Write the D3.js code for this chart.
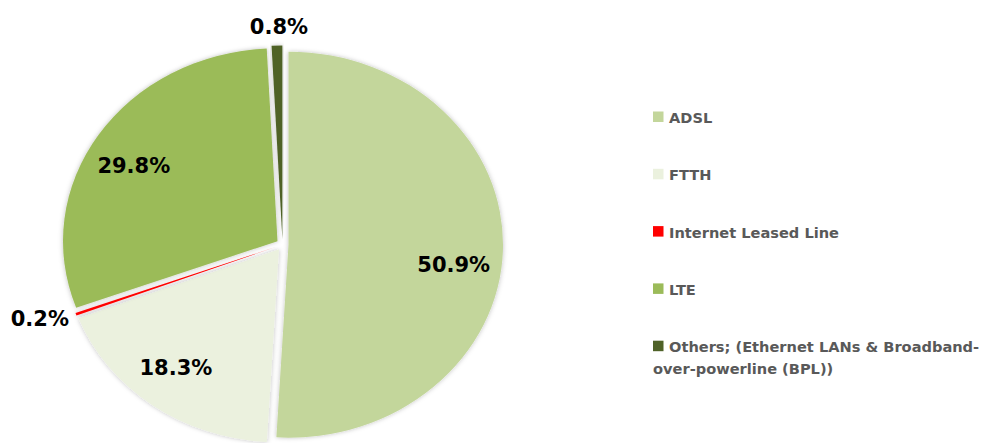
<!DOCTYPE html>
<html>
<head>
<meta charset="utf-8">
<script src="https://cdn.jsdelivr.net/npm/d3@7"></script>
<style>
  html, body { margin: 0; padding: 0; background: #fff; }
  svg { display: block; }
</style>
</head>
<body>
<svg id="chart" width="991" height="443"></svg>
<script>
// ---- data ----
const categories = ["ADSL", "FTTH", "Internet Leased Line", "LTE", "Others; (Ethernet LANs & Broadband-over-powerline (BPL))"];
const legendLines = [["ADSL"], ["FTTH"], ["Internet Leased Line"], ["LTE"], ["Others; (Ethernet LANs & Broadband-", "over-powerline (BPL))"]];
const values = [50.9, 18.3, 0.2, 29.8, 0.8];
const colors = ["#c3d69b", "#ebf1de", "#ff0000", "#9bbb59", "#4f6228"];
const labels = ["50.9%", "18.3%", "0.2%", "29.8%", "0.8%"];

// ---- layout ----
const svg = d3.select("#chart");
const cx = 282.5, cy = 244.5;
const rx = 214.5, ry = 193;
const k = rx / ry;
const explode = 6;
const insideR = 150;
const deg = Math.PI / 180;
const angleNudge = { "ADSL": 6 * deg, "FTTH": 2 * deg, "LTE": -3 * deg };

const defs = svg.append("defs");
const f = defs.append("filter").attr("id", "shadow")
  .attr("x", "-10%").attr("y", "-10%").attr("width", "120%").attr("height", "120%");
f.append("feDropShadow").attr("dx", 0).attr("dy", 0).attr("stdDeviation", 2.2)
  .attr("flood-color", "#000").attr("flood-opacity", 0.25);

const pie = d3.pie().value(d => d).sort(null);
const arcs = pie(values);
const arc = d3.arc().innerRadius(0).outerRadius(ry);

const g = svg.append("g");
arcs.forEach((a, i) => {
  const mid = (a.startAngle + a.endAngle) / 2;
  const ox = explode * Math.sin(mid), oy = -explode * Math.cos(mid);
  const sg = g.append("g")
    .attr("transform", `translate(${cx + ox},${cy + oy}) scale(${k},1)`);
  sg.append("path")
    .attr("d", arc(a))
    .attr("fill", colors[i])
    .attr("filter", "url(#shadow)");
});

// ---- data labels ----
const fontLbl = "'DejaVu Sans', Verdana, sans-serif";
arcs.forEach((a, i) => {
  let mid = (a.startAngle + a.endAngle) / 2;
  const ox = explode * Math.sin(mid), oy = -explode * Math.cos(mid);
  const s = Math.sin(mid), c = -Math.cos(mid);
  const t = svg.append("text")
    .attr("font-family", fontLbl)
    .attr("font-weight", "bold")
    .attr("font-size", 21)
    .attr("fill", "#000")
    .text(labels[i]);
  if (values[i] >= 5) {
    const m = mid + (angleNudge[categories[i]] || 0);
    const x = cx + ox + k * insideR * Math.sin(m);
    const y = cy + oy - insideR * Math.cos(m);
    t.attr("x", x).attr("y", y).attr("dy", "0.36em").attr("text-anchor", "middle");
  } else {
    const ex = cx + ox + rx * s, ey = cy + oy + ry * c;
    if (Math.abs(c) > 0.7) {
      t.attr("x", ex + 2).attr("y", ey + (c < 0 ? -12 : 28)).attr("text-anchor", "middle");
    } else {
      t.attr("x", ex + (s < 0 ? -7 : 7)).attr("y", ey + 4).attr("dy", "0.36em")
        .attr("text-anchor", s < 0 ? "end" : "start");
    }
  }
});

// ---- legend ----
const lx = 653, ly0 = 123, lstep = 57.3;
const lg = svg.append("g");
legendLines.forEach((lines, i) => {
  const y = ly0 + i * lstep;
  lg.append("rect").attr("x", lx).attr("y", y - 11.5).attr("width", 10.5).attr("height", 10.5)
    .attr("fill", colors[i]);
  const t = lg.append("text")
    .attr("x", lx + 16).attr("y", y)
    .attr("font-family", fontLbl)
    .attr("font-weight", "bold")
    .attr("font-size", 14.6)
    .attr("fill", "#595959");
  lines.forEach((ln, j) => {
    t.append("tspan").attr("x", j === 0 ? lx + 16 : lx).attr("y", y + j * 22).text(ln);
  });
});
</script>
</body>
</html>
